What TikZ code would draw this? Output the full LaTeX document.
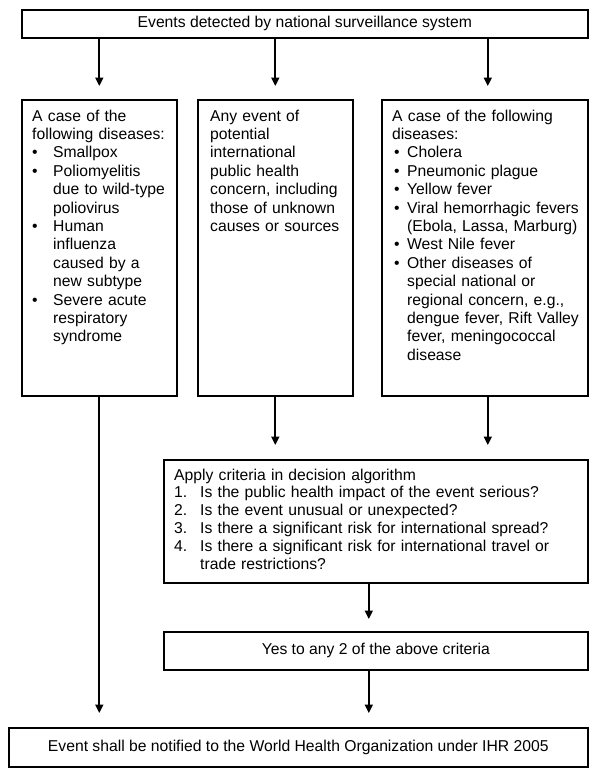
\documentclass[tikz,border=0pt]{standalone}
\usepackage{fontspec}
\setmainfont{Liberation Sans}
\usetikzlibrary{arrows.meta}
\newcommand\bul[3]{\par\leftskip=#1\noindent\llap{\makebox[#1][l]{\hspace{#2}\textbullet}}#3\par}
\newcommand\nitem[2]{\par\leftskip=26pt\noindent\llap{\makebox[26pt][l]{#1}}#2\par}
\begin{document}
\begin{tikzpicture}[x=1pt,y=-1pt,
  box/.style={draw=black, line width=1.6pt, rectangle, inner sep=0pt, anchor=north west},
  ctext/.style={font=\fontsize{15.7}{18.4}\selectfont},
  txt/.style={inner sep=0pt, anchor=base west, align=left, font=\fontsize{15.7}{18.4}\selectfont},
  txtb/.style={inner sep=0pt, anchor=base west, align=left, font=\fontsize{15.7}{17.8}\selectfont},
  arr/.style={line width=1.9pt, -{Triangle[length=8.5pt,width=8pt]}}]
\useasboundingbox (0,0) rectangle (600,782);

% boxes
\node[box, ctext, minimum width=566pt, minimum height=28pt] (top) at (21,9) {Events detected by national surveillance system};
\node[box, minimum width=155pt, minimum height=296pt] (left) at (21,99) {};
\node[box, minimum width=155pt, minimum height=296pt] (mid) at (197,99) {};
\node[box, minimum width=206pt, minimum height=296pt] (right) at (381,99) {};
\node[box, minimum width=424pt, minimum height=123pt] (apply) at (163,459) {};
\node[box, ctext, minimum width=424pt, minimum height=38pt] (yes) at (163,631) {Yes to any 2 of the above criteria};
\node[box, ctext, minimum width=579pt, minimum height=39pt] (bottom) at (8,727) {Event shall be notified to the World Health Organization under IHR 2005};

% texts
\node[txt, text width=142pt] (lefttxt) at (32,121) {A case of the\\following diseases:
\bul{21pt}{0pt}{Smallpox}
\bul{21pt}{0pt}{Poliomyelitis\\due to wild-type\\poliovirus}
\bul{21pt}{0pt}{Human\\influenza\\caused by a\\new subtype}
\bul{21pt}{0pt}{Severe acute\\respiratory\\syndrome}};

\node[txt, text width=140pt] (midtxt) at (210,121) {Any event of\\potential\\international\\public health\\concern, including\\those of unknown\\causes or sources};

\node[txt, text width=195pt] (righttxt) at (392,121) {A case of the following\\diseases:
\bul{15pt}{2pt}{Cholera}
\bul{15pt}{2pt}{Pneumonic plague}
\bul{15pt}{2pt}{Yellow fever}
\bul{15pt}{2pt}{Viral hemorrhagic fevers\\(Ebola, Lassa, Marburg)}
\bul{15pt}{2pt}{West Nile fever}
\bul{15pt}{2pt}{Other diseases of\\special national or\\regional concern, e.g.,\\dengue fever, Rift Valley\\fever, meningococcal\\disease}};

\node[txtb, text width=410pt] (applytxt) at (174,480) {Apply criteria in decision algorithm
\nitem{1.}{Is the public health impact of the event serious?}
\nitem{2.}{Is the event unusual or unexpected?}
\nitem{3.}{Is there a significant risk for international spread?}
\nitem{4.}{Is there a significant risk for international travel or\\trade restrictions?}};

% helper coordinates
\coordinate (rtop) at ([xshift=3pt]right.north);
\coordinate (rbot) at ([xshift=3pt]right.south);
\coordinate (an) at ([yshift=14pt]apply.north);
\coordinate (ay) at ([xshift=-7pt]apply.south);
\coordinate (yn) at ([yshift=12pt]yes.north);
\coordinate (yb) at ([xshift=-7pt]yes.south);
\coordinate (bn) at ([yshift=14pt]bottom.north);

% connectors
\draw[arr] (top.south -| left.north) -- ([yshift=13pt]left.north);
\draw[arr] (top.south -| mid.north) -- ([yshift=13pt]mid.north);
\draw[arr] (top.south -| rtop) -- ([yshift=13pt]rtop);
\draw[arr] (mid.south) -- (mid.south |- an);
\draw[arr] (rbot) -- (rbot |- an);
\draw[arr] (ay) -- (ay |- yn);
\draw[arr] (yb) -- (yb |- bn);
\draw[arr] (left.south) -- (left.south |- bn);
\end{tikzpicture}
\end{document}
